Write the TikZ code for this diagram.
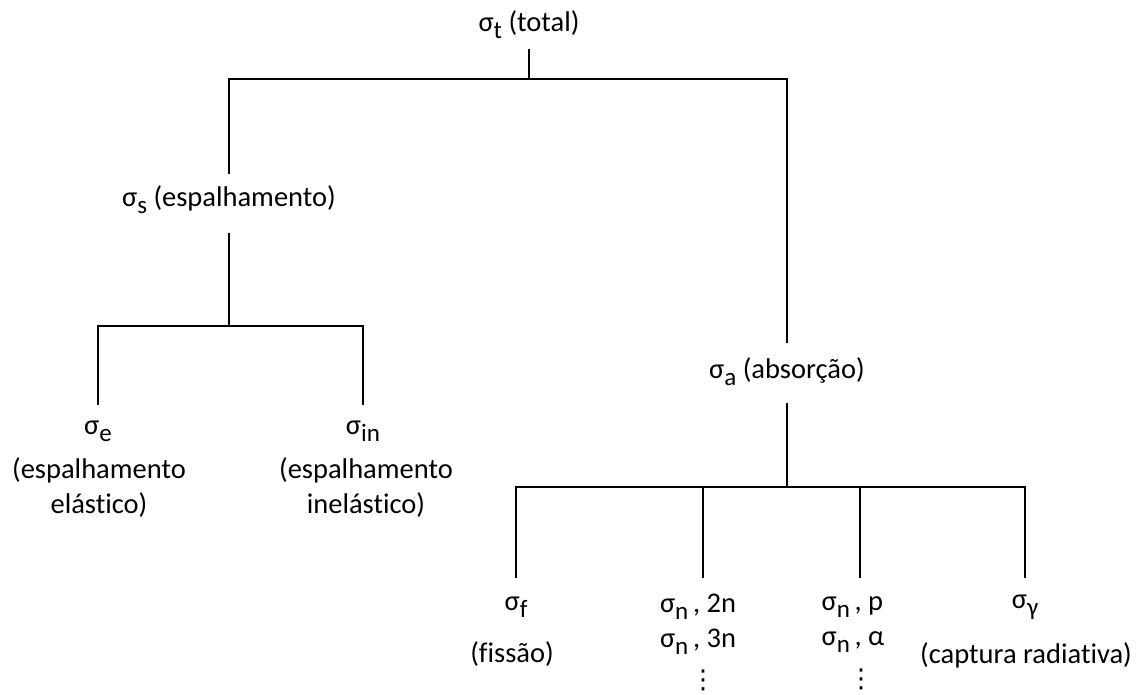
\documentclass[tikz,border=0pt]{standalone}
\usepackage{fontspec}
\setmainfont{Carlito}[Ligatures=NoCommon]
\newfontfamily\dejavu{DejaVu Sans}
\newcommand\lowsub[1]{\raisebox{-7pt}{\fontsize{25}{25}\selectfont #1}}
\begin{document}
\begin{tikzpicture}[x=1pt,y=-1pt,
  lbl/.style={font=\fontsize{28.5}{35}\selectfont, inner sep=0pt, anchor=base, text height=20pt, text depth=9pt},
  desc/.style={font=\fontsize{28.5}{35}\selectfont, inner sep=0pt, anchor=base, align=center},
  stack/.style={font=\fontsize{28.5}{35}\selectfont, inner sep=0pt, anchor=base, align=left},
  vdotsnode/.style={font=\dejavu\fontsize{26}{26}\selectfont, inner sep=0pt, anchor=base},
  edge/.style={line width=2.8pt, draw=black}]
\useasboundingbox (0,0) rectangle (1140,695);

% level 0
\node[lbl] (tot) at (529,32) {σ\lowsub{t} (total)};
\coordinate (j0) at (529,79);

% level 1
\node[lbl] (sS) at (229,207) {σ\lowsub{s} (espalhamento)};
\node[lbl] (sA) at (787,378) {σ\lowsub{a} (absorção)};
\coordinate (j1) at (229,326);
\coordinate (j2) at (787,487);

% scattering children (multi-line nodes: base = last line)
\node[lbl] (sE) at (98,434) {σ\lowsub{e}};
\node[desc] (eD) at (99,513) {(espalhamento\\elástico)};
\node[lbl] (sIN) at (363,434) {σ\lowsub{in}};
\node[desc] (inD) at (366,513) {(espalhamento\\inelástico)};

% absorption children
\node[lbl] (sF) at (516,610) {σ\lowsub{f}};
\node[desc] (fD) at (512,662) {(fissão)};
\node[stack] (sN1) at (698,647) {σ\lowsub{n}\,, 2n\\σ\lowsub{n}\,, 3n};
\node[vdotsnode] (d1) at (703,688) {⋮};
\node[stack] (sN2) at (853,645) {σ\lowsub{n}\,, p\\σ\lowsub{n}\,, α};
\node[vdotsnode] (d2) at (861,687) {⋮};
\node[lbl] (sG) at (1025,608) {σ\lowsub{γ}};
\node[desc] (gD) at (1026,663) {(captura radiativa)};

% connectors
\draw[edge, shorten <=8pt] (tot) -- (j0);
\draw[edge, shorten >=13pt] (j0) -| (sS);
\draw[edge, shorten >=15pt] (j0) -| (sA);
\draw[edge, shorten <=17pt] (sS) -- (j1);
\draw[edge, shorten >=9pt] (j1) -| (sE);
\draw[edge, shorten >=9pt] (j1) -| (sIN);
\draw[edge, shorten <=16pt] (sA) -- (j2);
\draw[edge, shorten >=12pt] (j2) -| (sF);
\draw[edge, shorten >=15pt] (j2) -| ([xshift=5pt]sN1.north);
\draw[edge, shorten >=18pt] (j2) -| ([xshift=7pt]sN2.north);
\draw[edge, shorten >=10pt] (j2) -| (sG);
\end{tikzpicture}
\end{document}
